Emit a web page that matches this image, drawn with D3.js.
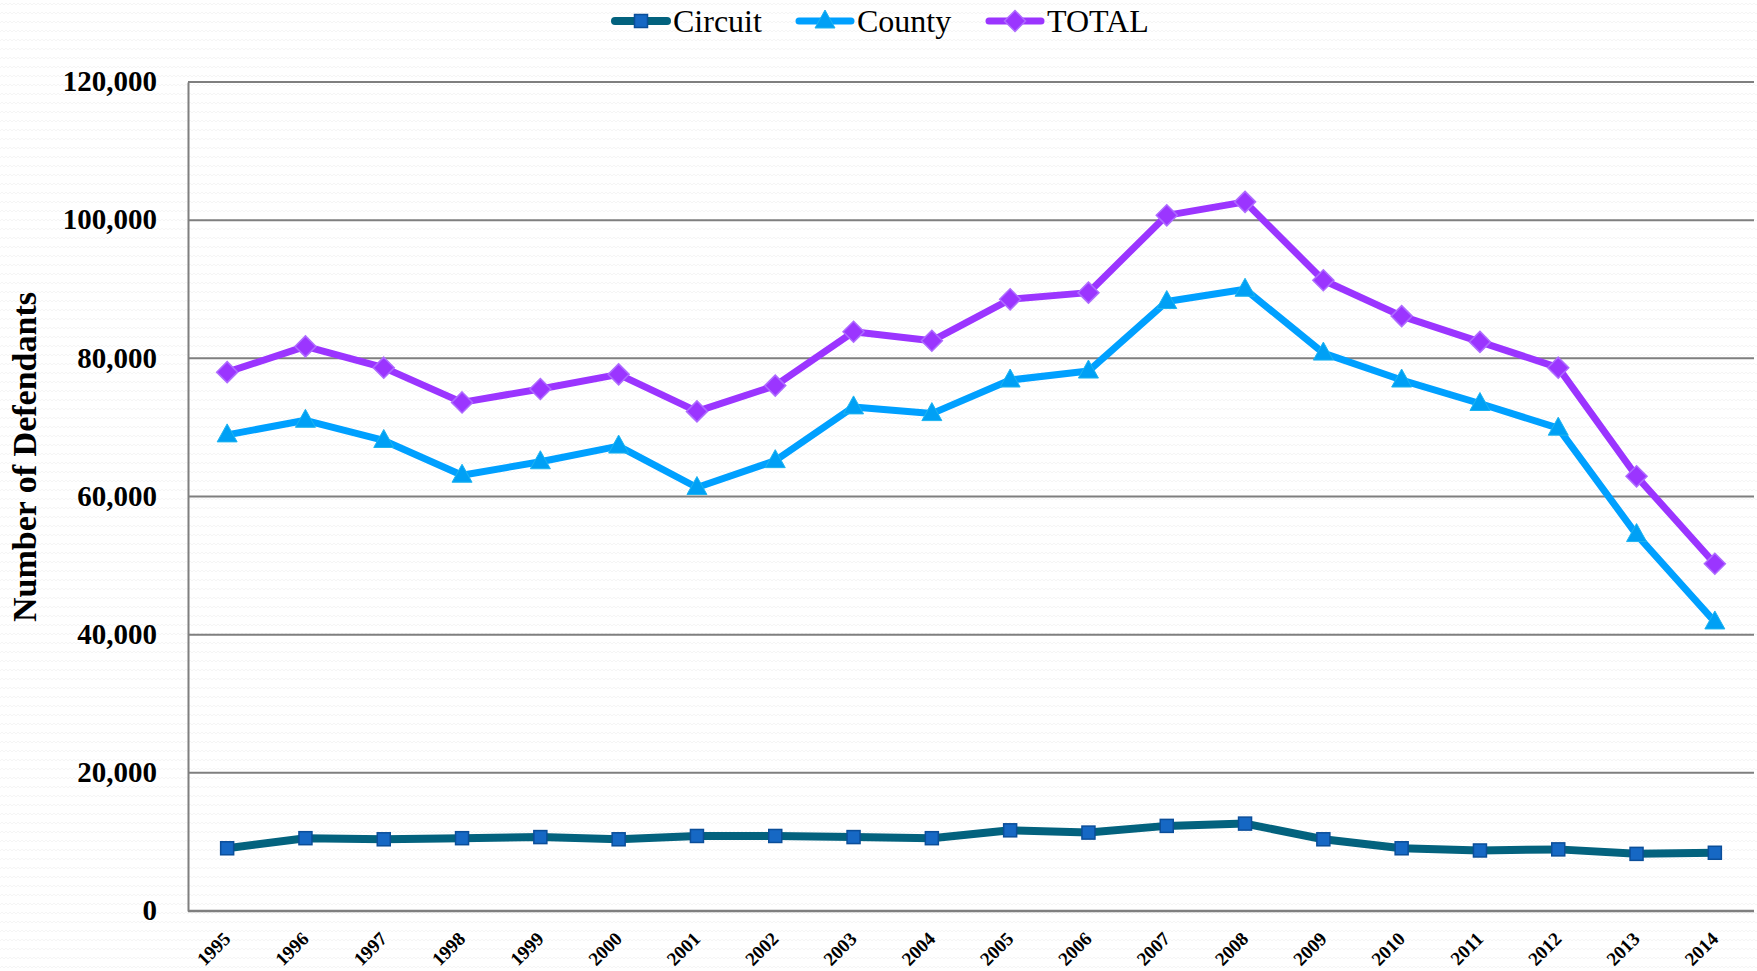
<!DOCTYPE html>
<html><head><meta charset="utf-8">
<script src="https://cdn.jsdelivr.net/npm/d3@7"></script>
<style>
html,body{margin:0;padding:0;background:#fff;}
svg{display:block;}
</style></head>
<body>
<svg id="chart" width="1757" height="971"></svg>
<script>
const years = ["1995","1996","1997","1998","1999","2000","2001","2002","2003","2004","2005","2006","2007","2008","2009","2010","2011","2012","2013","2014"];
const circuit = [9080,10540,10380,10540,10700,10380,10860,10860,10700,10540,11680,11350,12320,12650,10380,9080,8760,8920,8270,8430];
const county = [68920,71030,68110,63080,65030,67300,61300,65190,72970,72000,76860,78160,88220,90000,80760,76860,73460,69890,54490,41840];
const total = [78000,81730,78650,73620,75570,77680,72320,76050,83840,82540,88540,89510,100700,102650,91300,86110,82380,78650,62920,50270];
const yTicks = [0,20000,40000,60000,80000,100000,120000];
const seriesNames = ["Circuit","County","TOTAL"];

const svg = d3.select("#chart");
const W = 1757, H = 971;
const m = {left:188, right:3, top:82, bottom:60};

// subtle wavy background
const defs = svg.append("defs");
const pat = defs.append("pattern").attr("id","wave").attr("width",8).attr("height",9).attr("patternUnits","userSpaceOnUse");
pat.append("rect").attr("width",8).attr("height",9).attr("fill","#ffffff");
pat.append("path").attr("d","M0,5 L2,3 L4,5 L6,3 L8,5").attr("fill","none").attr("stroke","#f5f5f5").attr("stroke-width",1);
svg.append("rect").attr("width",W).attr("height",H).attr("fill","url(#wave)");

const x = d3.scalePoint().domain(years).range([m.left, W - m.right]).padding(0.5);
const y = d3.scaleLinear().domain([0,120000]).range([911, 82]);

// gridlines
svg.append("g").selectAll("line").data(yTicks.filter(d=>d>0)).join("line")
  .attr("x1", m.left).attr("x2", W - m.right)
  .attr("y1", d=>y(d)).attr("y2", d=>y(d))
  .attr("stroke","#7f7f7f").attr("stroke-width",2);

// axes
const yAxis = svg.append("g").attr("transform",`translate(${m.left},0)`)
  .call(d3.axisLeft(y).tickValues(yTicks).tickSize(0).tickPadding(31).tickFormat(d3.format(",")));
yAxis.select(".domain").attr("stroke","#7f7f7f").attr("stroke-width",2);
yAxis.selectAll("text").attr("font-family","'Liberation Serif', serif").attr("font-weight","bold")
  .attr("font-size",29).attr("fill","#000").attr("dy","0.3em");

const xAxis = svg.append("g").attr("transform",`translate(0,${y(0)})`)
  .call(d3.axisBottom(x).tickSize(0).tickPadding(0));
xAxis.select(".domain").attr("stroke","#7f7f7f").attr("stroke-width",2.5)
  .attr("d",`M${m.left},0H${W - m.right}`);
xAxis.selectAll("text").attr("font-family","'Liberation Serif', serif").attr("font-weight","600")
  .attr("font-size",19).attr("fill","#000")
  .attr("text-anchor","end").attr("dy",0).attr("y",0)
  .attr("transform","translate(4,29) rotate(-45)");

// y title
svg.append("text").attr("transform","translate(36,457) rotate(-90)")
  .attr("text-anchor","middle").attr("font-family","'Liberation Serif', serif").attr("font-weight","bold")
  .attr("font-size",34).attr("fill","#000").text("Number of Defendants");

const line = d3.line().x((d,i)=>x(years[i])).y(d=>y(d));
const styles = {
  Circuit:{data:circuit, stroke:"#03627E", width:8, fill:"#1668C4", mstroke:"#0B4E99", shape:"square"},
  County:{data:county, stroke:"#00A0FF", width:7, fill:"#00A0F5", mstroke:"#1DB4F0", shape:"triangle"},
  TOTAL:{data:total, stroke:"#9B35FF", width:7, fill:"#9B35FF", mstroke:"#AE6BFF", shape:"diamond"}
};

function marker(g, shape, s){
  if(shape==="square") g.append("rect").attr("x",-6.5).attr("y",-6.5).attr("width",13).attr("height",13)
    .attr("fill",s.fill).attr("stroke",s.mstroke).attr("stroke-width",1.5);
  else if(shape==="triangle") g.append("path").attr("d","M0,-11 L10,7 L-10,7 Z")
    .attr("fill",s.fill).attr("stroke",s.mstroke).attr("stroke-width",1);
  else g.append("path").attr("d","M0,-10.5 L10.5,0 L0,10.5 L-10.5,0 Z")
    .attr("fill",s.fill).attr("stroke",s.mstroke).attr("stroke-width",1.5);
}

["County","TOTAL","Circuit"].forEach(name=>{
  const s = styles[name];
  svg.append("path").datum(s.data).attr("d",line).attr("fill","none")
    .attr("stroke",s.stroke).attr("stroke-width",s.width).attr("stroke-linejoin","round").attr("stroke-linecap","round");
  s.data.forEach((v,i)=>{
    const g = svg.append("g").attr("transform",`translate(${x(years[i])},${y(v)})`);
    marker(g, s.shape, s);
  });
});

// legend
const legendX = [612, 796, 986];
seriesNames.forEach((name,i)=>{
  const s = styles[name];
  const g = svg.append("g").attr("transform",`translate(${legendX[i]},21)`);
  g.append("line").attr("x1",3).attr("x2",55).attr("y1",0).attr("y2",0)
    .attr("stroke",s.stroke).attr("stroke-width",s.width).attr("stroke-linecap","round");
  const mg = g.append("g").attr("transform","translate(29,0)");
  marker(mg, s.shape, s);
  g.append("text").attr("x",61).attr("y",11).attr("font-family","'Liberation Serif', serif")
    .attr("font-size",32).attr("fill","#000").text(name);
});
</script>
</body></html>
